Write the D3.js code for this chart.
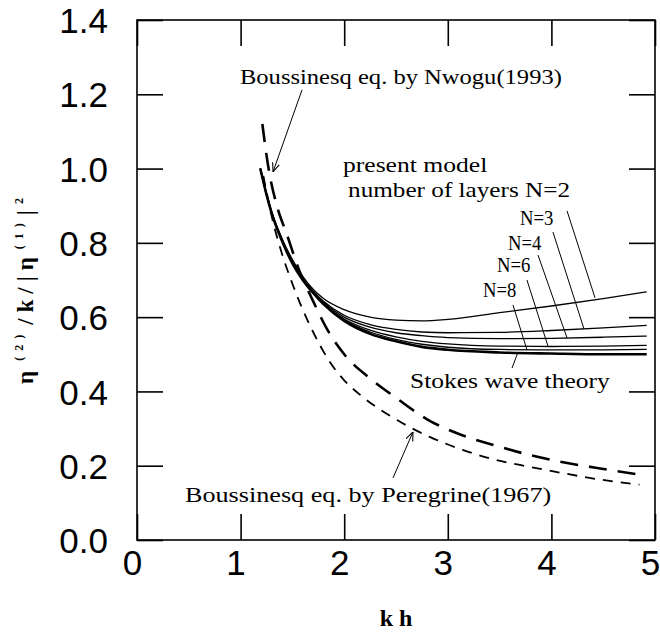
<!DOCTYPE html>
<html>
<head>
<meta charset="utf-8">
<title>second order amplitude</title>
<script src="https://cdn.jsdelivr.net/npm/d3@7"></script>
<style>
  body { margin: 0; background: #fff; }
</style>
</head>
<body>
<script>
// kh grid for the solid (present model / Stokes) curves
var khSolid = [1.19, 1.25, 1.3, 1.4, 1.5, 1.6, 1.7, 1.8, 2.0, 2.25, 2.5, 2.75, 3.0, 3.5, 4.0, 4.5, 4.92];
var stokes  = [1.0, 0.93, 0.88, 0.805, 0.745, 0.70, 0.665, 0.635, 0.59, 0.555, 0.535, 0.52, 0.512, 0.505, 0.502, 0.50, 0.50];
var n8      = [1.0, 0.93, 0.88, 0.805, 0.745, 0.70, 0.665, 0.636, 0.592, 0.56, 0.54, 0.527, 0.519, 0.513, 0.512, 0.512, 0.513];
var n6      = [1.0, 0.93, 0.88, 0.805, 0.746, 0.701, 0.666, 0.637, 0.595, 0.565, 0.547, 0.535, 0.528, 0.522, 0.521, 0.522, 0.524];
var n4      = [1.0, 0.93, 0.88, 0.806, 0.747, 0.703, 0.668, 0.64, 0.60, 0.573, 0.558, 0.55, 0.545, 0.542, 0.543, 0.546, 0.549];
var n3      = [1.0, 0.93, 0.88, 0.807, 0.748, 0.705, 0.67, 0.643, 0.605, 0.58, 0.567, 0.56, 0.558, 0.559, 0.564, 0.571, 0.578];
var n2      = [1.0, 0.932, 0.884, 0.812, 0.755, 0.71, 0.675, 0.65, 0.62, 0.60, 0.592, 0.59, 0.594, 0.612, 0.63, 0.65, 0.668];

// Boussinesq eq. by Nwogu (1993)
var khNwogu = [1.21, 1.27, 1.35, 1.45, 1.56, 1.68, 1.84, 2.0, 2.25, 2.5, 2.8, 3.12, 3.44, 3.76, 4.08, 4.44, 4.85];
var nwogu   = [1.12, 1.0, 0.90, 0.82, 0.73, 0.655, 0.565, 0.50, 0.435, 0.383, 0.325, 0.284, 0.256, 0.231, 0.211, 0.194, 0.176];

// Boussinesq eq. by Peregrine (1967)
var khPeregrine = [1.22, 1.31, 1.4, 1.5, 1.6, 1.7, 1.86, 2.0, 2.18, 2.51, 2.83, 3.15, 3.47, 3.79, 4.11, 4.44, 4.85];
var peregrine   = [0.98, 0.86, 0.77, 0.69, 0.62, 0.56, 0.48, 0.43, 0.385, 0.323, 0.277, 0.242, 0.215, 0.197, 0.18, 0.164, 0.149];

var xTicks = [0, 1, 2, 3, 4, 5];
var yTicks = [0, 0.2, 0.4, 0.6, 0.8, 1.0, 1.2, 1.4];

var w = 660, h = 633;
var padLeft = 137, padRight = 655, padTop = 20, padBottom = 540;

var svg = d3.select("body").append("svg")
    .attr("width", w)
    .attr("height", h);

var x = d3.scaleLinear().domain([0, 5]).range([padLeft, padRight]);
var y = d3.scaleLinear().domain([0, 1.4]).range([padBottom, padTop]);

// frame
svg.append("rect")
    .attr("x", padLeft).attr("y", padTop)
    .attr("width", padRight - padLeft).attr("height", padBottom - padTop)
    .attr("fill", "none").attr("stroke", "#000").attr("stroke-width", 1.6);

var tickFont = "'Liberation Sans', Arial, sans-serif";

var xAxis = svg.append("g")
    .attr("transform", "translate(0," + padBottom + ")")
    .call(d3.axisBottom(x).tickValues(xTicks).tickSize(-26).tickSizeOuter(0).tickPadding(10).tickFormat(d3.format("d")));
xAxis.selectAll("text").attr("dx", -5);

svg.append("g")
    .attr("transform", "translate(0," + padTop + ")")
    .call(d3.axisTop(x).tickValues(xTicks).tickSize(-26).tickSizeOuter(0).tickFormat(""));

var yAxis = svg.append("g")
    .attr("transform", "translate(" + padLeft + ",0)")
    .call(d3.axisLeft(y).tickValues(yTicks).tickSize(-26).tickSizeOuter(0).tickPadding(29).tickFormat(d3.format(".1f")));
yAxis.selectAll("text").attr("dy", "0.36em");

svg.append("g")
    .attr("transform", "translate(" + padRight + ",0)")
    .call(d3.axisRight(y).tickValues(yTicks).tickSize(-26).tickSizeOuter(0).tickFormat(""));

svg.selectAll(".domain").remove();
svg.selectAll(".tick line").attr("stroke", "#000").attr("stroke-width", 1.6);
svg.selectAll(".tick text")
    .attr("font-family", tickFont)
    .attr("font-size", "35px")
    .attr("fill", "#000");

// curves
var line = d3.line()
    .x(function(d) { return x(d[0]); })
    .y(function(d) { return y(d[1]); })
    .curve(d3.curveMonotoneX);

function pairs(xs, ys) {
    return xs.map(function(v, i) { return [v, ys[i]]; });
}

var solids = [
    {vals: n2, sw: 1.3},
    {vals: n3, sw: 1.3},
    {vals: n4, sw: 1.3},
    {vals: n6, sw: 1.3},
    {vals: n8, sw: 1.3},
    {vals: stokes, sw: 2.6}
];
solids.forEach(function(s) {
    svg.append("path")
        .attr("d", line(pairs(khSolid, s.vals)))
        .attr("fill", "none")
        .attr("stroke", "#000")
        .attr("stroke-width", s.sw);
});

svg.append("path")
    .attr("d", line(pairs(khNwogu, nwogu)))
    .attr("fill", "none")
    .attr("stroke", "#000")
    .attr("stroke-width", 2.6)
    .attr("stroke-dasharray", "18,11");

svg.append("path")
    .attr("d", line(pairs(khPeregrine, peregrine)))
    .attr("fill", "none")
    .attr("stroke", "#000")
    .attr("stroke-width", 1.8)
    .attr("stroke-dasharray", "10,8");

// leader lines (data coords: from -> to)
svg.append("defs").append("marker")
    .attr("id", "arr")
    .attr("viewBox", "0 0 10 10")
    .attr("refX", 10).attr("refY", 5)
    .attr("markerWidth", 9).attr("markerHeight", 9)
    .attr("markerUnits", "userSpaceOnUse")
    .attr("orient", "auto")
    .append("path")
    .attr("d", "M0,1 L10,5 L0,9")
    .attr("fill", "none").attr("stroke", "#000").attr("stroke-width", 1.2);

var leaders = [
    {x1: 1.593, y1: 1.212, x2: 1.313, y2: 0.991, arrow: true},
    {x1: 2.471, y1: 0.167, x2: 2.664, y2: 0.291, arrow: true},
    {x1: 3.62, y1: 0.463, x2: 3.678, y2: 0.506, arrow: false},
    {x1: 4.151, y1: 0.886, x2: 4.421, y2: 0.652, arrow: false},
    {x1: 4.015, y1: 0.829, x2: 4.315, y2: 0.568, arrow: false},
    {x1: 3.871, y1: 0.767, x2: 4.151, y2: 0.544, arrow: false},
    {x1: 3.764, y1: 0.700, x2: 3.967, y2: 0.522, arrow: false},
    {x1: 3.629, y1: 0.633, x2: 3.764, y2: 0.512, arrow: false}
];
leaders.forEach(function(l) {
    var p = svg.append("line")
        .attr("x1", x(l.x1)).attr("y1", y(l.y1))
        .attr("x2", x(l.x2)).attr("y2", y(l.y2))
        .attr("stroke", "#000").attr("stroke-width", 1);
    if (l.arrow) p.attr("marker-end", "url(#arr)");
});

// annotation texts
var notes = [
    {t: "Boussinesq eq. by Nwogu(1993)", x: 0.994, y: 1.228},
    {t: "present model", x: 1.988, y: 0.991},
    {t: "number of layers N=2", x: 2.037, y: 0.924},
    {t: "N=3", x: 3.697, y: 0.848},
    {t: "N=4", x: 3.581, y: 0.781},
    {t: "N=6", x: 3.475, y: 0.722},
    {t: "N=8", x: 3.340, y: 0.654},
    {t: "Stokes wave theory", x: 2.635, y: 0.409},
    {t: "Boussinesq eq. by Peregrine(1967)", x: 0.463, y: 0.102}
];
notes.forEach(function(n) {
    svg.append("text")
        .text(n.t)
        .attr("x", x(n.x))
        .attr("y", y(n.y))
        .attr("textLength", n.t.length * 11.1)
        .attr("lengthAdjust", "spacingAndGlyphs")
        .attr("font-family", "'Liberation Serif', 'DejaVu Serif', serif")
        .attr("font-size", "22px")
        .attr("fill", "#000");
});

// axis titles
svg.append("text")
    .text("k h")
    .attr("x", (padLeft + padRight) / 2)
    .attr("y", 626)
    .attr("text-anchor", "middle")
    .attr("font-family", "'Liberation Serif', serif")
    .attr("font-weight", "bold")
    .attr("font-size", "24px");

var yl = svg.append("text")
    .attr("transform", "translate(33,288) rotate(-90)")
    .attr("text-anchor", "middle")
    .attr("font-family", "'Liberation Serif', serif")
    .attr("font-weight", "bold")
    .attr("font-size", "23px")
    .attr("letter-spacing", "6px");
yl.append("tspan").text("\u03b7");
yl.append("tspan").text("(2)").attr("font-size", "12px").attr("dy", -10).attr("dx", 4);
yl.append("tspan").text("/k/|\u03b7").attr("dy", 10).attr("dx", 4);
yl.append("tspan").text("(1)").attr("font-size", "12px").attr("dy", -10).attr("dx", 2);
yl.append("tspan").text("|").attr("dy", 10).attr("dx", 2);
yl.append("tspan").text("2").attr("font-size", "12px").attr("dy", -10);
</script>
</body>
</html>
